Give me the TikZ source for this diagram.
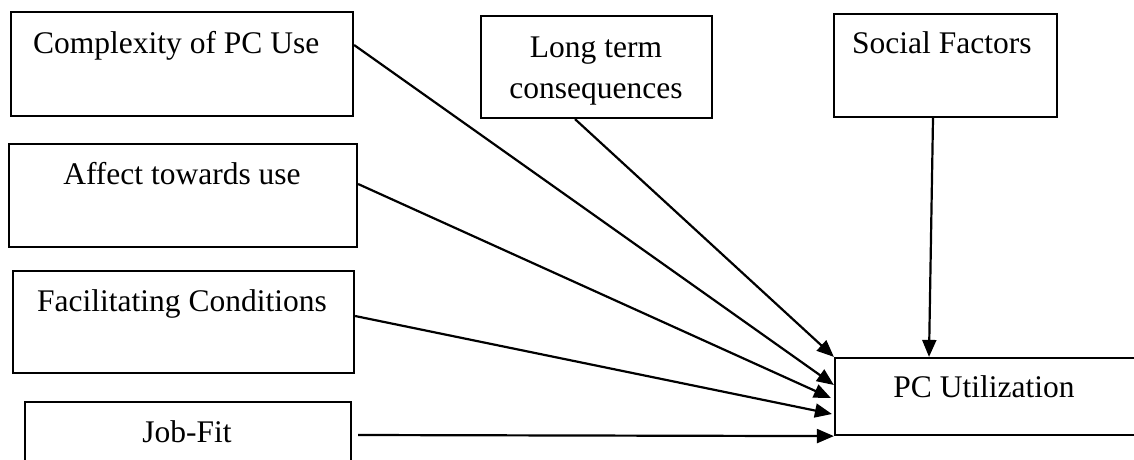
\documentclass[tikz,border=0pt]{standalone}
\usepackage{fontspec}
\setmainfont{Liberation Serif}
\usetikzlibrary{arrows.meta}
\begin{document}
\begin{tikzpicture}[x=1pt,y=-1pt,
  box/.style={draw, line width=2.2pt, inner sep=0pt},
  txt/.style={inner sep=0pt, font=\fontsize{31.5}{41}\selectfont},
  link/.style={line width=2.2pt, -{Triangle[length=17pt,width=14pt]}}]
  \useasboundingbox (0,0) rectangle (1134,460);
  \clip (0,0) rectangle (1134,460);

  % factor boxes
  \node[box, minimum width=342pt, minimum height=104pt] (cx) at (182,64) {};
  \node[box, minimum width=231pt, minimum height=102pt] (lt) at (596.5,67) {};
  \node[box, minimum width=223pt, minimum height=103pt] (sf) at (945.5,65.5) {};
  \node[box, minimum width=348pt, minimum height=103pt] (at) at (183,195.5) {};
  \node[box, minimum width=341pt, minimum height=102pt] (fc) at (183.5,322) {};
  \node[box, minimum width=326pt, minimum height=103pt] (jf) at (188,453.5) {};
  % outcome box
  \node[box, minimum width=365pt, minimum height=77pt] (pc) at (1017.5,396.5) {};

  % box captions
  \node[txt, anchor=base west] (cxt) at (33,53) {Complexity of PC Use};
  \node[txt, anchor=base, align=center] (ltt) at (596,98) {Long term\\consequences};
  \node[txt, anchor=base west] (sft) at (852,53) {Social Factors};
  \node[txt, anchor=base] (att) at (182,184) {Affect towards use};
  \node[txt, anchor=base] (fct) at (182,311) {Facilitating Conditions};
  \node[txt, anchor=base] (jft) at (187,442) {Job-Fit};
  \node[txt, anchor=base] (pct) at (984,397) {PC Utilization};

  % influences on PC utilization
  \draw[link] ([xshift=-21.5pt]lt.south) -- (pc.north west);
  \draw[link] ([yshift=19pt]cx.east) -- ([yshift=11.5pt]pc.west);
  \draw[link] ([yshift=11.5pt]at.east) -- ([xshift=-3pt,yshift=-1.5pt]pc.west);
  \draw[link] ([yshift=6pt]fc.east) -- ([xshift=-2pt,yshift=-17.5pt]pc.west);
  \draw[link] ([xshift=6pt,yshift=18.5pt]jf.east) -- (pc.south west);
  \draw[link] ([xshift=-12.5pt]sf.south) -- ([xshift=-88.5pt]pc.north);
\end{tikzpicture}
\end{document}
